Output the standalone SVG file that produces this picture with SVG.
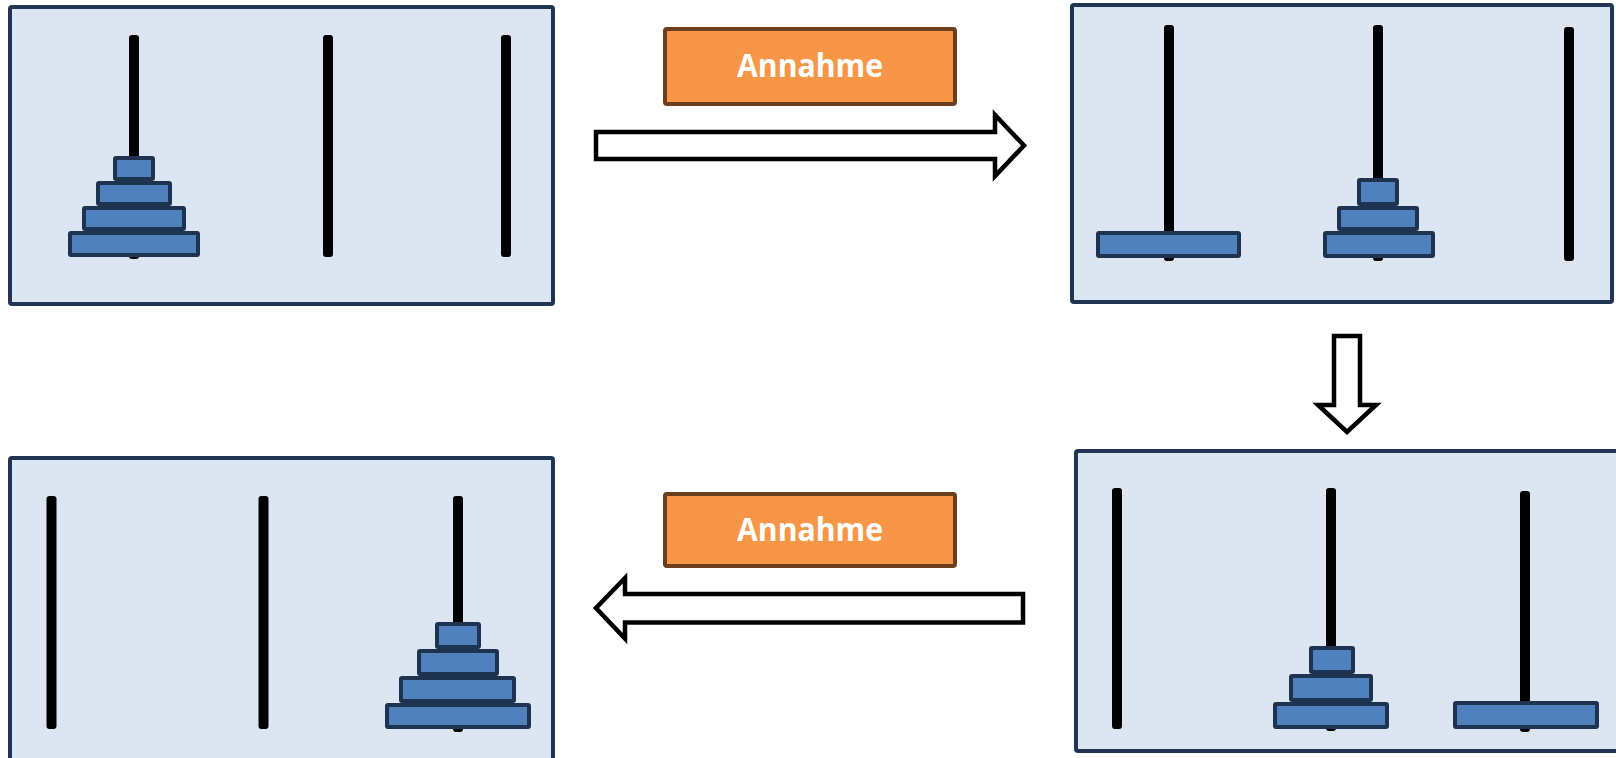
<svg xmlns="http://www.w3.org/2000/svg" width="1616" height="758" viewBox="0 0 1616 758">
<style>
.panel{fill:#DCE6F2;stroke:#1F3552;stroke-width:4}
.peg{fill:#000}
.disk{fill:#4F81BD;stroke:#1D3350;stroke-width:4}
.label{fill:#F79646;stroke:#6B3F1D;stroke-width:4}
.ltext{font-family:"Open Sans","Noto Sans",sans-serif;font-weight:bold;font-size:32px;fill:#fff;text-anchor:middle}
.arrow{fill:#fff;stroke:#000;stroke-width:4.5}
</style>
<rect width="1616" height="758" fill="#fff"/>
<g id="state1">
<rect class="panel" x="10" y="7" width="543" height="297" rx="2"/>
<rect class="peg" x="129" y="35" width="10" height="224" rx="3"/>
<rect class="peg" x="323" y="35" width="10" height="222" rx="3"/>
<rect class="peg" x="501" y="35" width="10" height="222" rx="3"/>
<rect class="disk" x="70" y="233" width="128" height="22" rx="1"/>
<rect class="disk" x="84" y="208" width="100" height="21" rx="1"/>
<rect class="disk" x="98" y="183" width="72" height="21" rx="1"/>
<rect class="disk" x="115" y="158" width="38" height="21" rx="1"/>
</g>
<g id="state2">
<rect class="panel" x="1072" y="5" width="540" height="297" rx="2"/>
<rect class="peg" x="1164" y="25" width="10" height="236" rx="3"/>
<rect class="peg" x="1373" y="25" width="10" height="236" rx="3"/>
<rect class="peg" x="1564" y="27" width="10" height="234" rx="3"/>
<rect class="disk" x="1098" y="233" width="141" height="23" rx="1"/>
<rect class="disk" x="1325" y="233" width="108" height="23" rx="1"/>
<rect class="disk" x="1339" y="208" width="78" height="21" rx="1"/>
<rect class="disk" x="1359" y="180" width="38" height="24" rx="1"/>
</g>
<g id="state3">
<rect class="panel" x="1076" y="451" width="560" height="300" rx="2"/>
<rect class="peg" x="1112" y="488" width="10" height="241" rx="3"/>
<rect class="peg" x="1326" y="488" width="10" height="243" rx="3"/>
<rect class="peg" x="1520" y="491" width="10" height="241" rx="3"/>
<rect class="disk" x="1275" y="704" width="112" height="23" rx="1"/>
<rect class="disk" x="1291" y="676" width="80" height="24" rx="1"/>
<rect class="disk" x="1311" y="648" width="42" height="24" rx="1"/>
<rect class="disk" x="1455" y="703" width="142" height="24" rx="1"/>
</g>
<g id="state4">
<rect class="panel" x="10" y="458" width="543" height="310" rx="2"/>
<rect class="peg" x="46.5" y="496" width="10" height="233" rx="3"/>
<rect class="peg" x="258.5" y="496" width="10" height="233" rx="3"/>
<rect class="peg" x="453" y="496" width="10" height="236" rx="3"/>
<rect class="disk" x="387" y="705" width="142" height="22" rx="1"/>
<rect class="disk" x="401" y="678" width="113" height="23" rx="1"/>
<rect class="disk" x="419" y="651" width="78" height="23" rx="1"/>
<rect class="disk" x="437" y="624" width="42" height="23" rx="1"/>
</g>
<g id="label1">
<rect class="label" x="665" y="29" width="290" height="75" rx="2"/>
<text class="ltext" x="810" y="77" textLength="146" lengthAdjust="spacingAndGlyphs">Annahme</text>
</g>
<g id="label2">
<rect class="label" x="665" y="494" width="290" height="72" rx="2"/>
<text class="ltext" x="810" y="541" textLength="146" lengthAdjust="spacingAndGlyphs">Annahme</text>
</g>
<g id="connectors">
<polygon class="arrow" points="596,132 995,132 995,115 1024,145.5 995,176 995,159 596,159"/>
<polygon class="arrow" points="1334,336 1360,336 1360,405 1376,405 1347,432 1318,405 1334,405"/>
<polygon class="arrow" points="1023,594 625,594 625,578 596,608 625,638.5 625,622.5 1023,622.5"/>
</g>
</svg>
